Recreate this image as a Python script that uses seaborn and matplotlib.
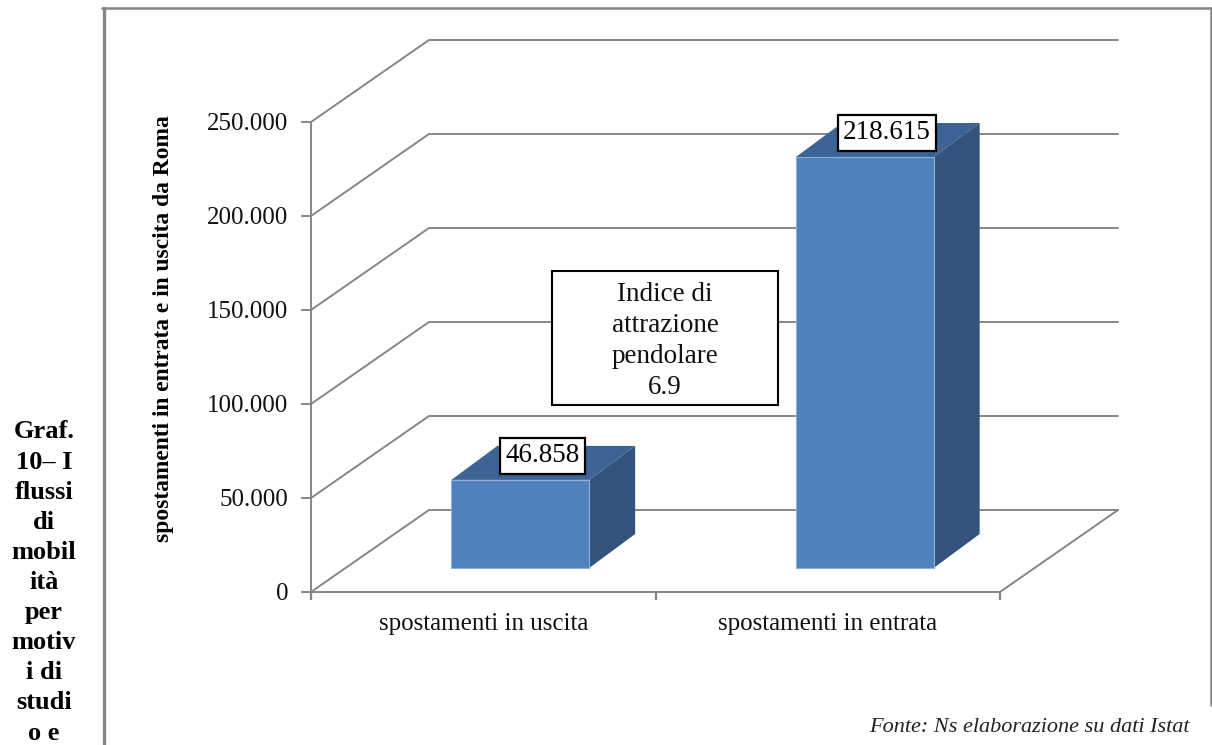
import pandas as pd
import seaborn as sns
from matplotlib import pyplot as plt
from matplotlib.lines import Line2D
from matplotlib.patches import Polygon, Rectangle
from matplotlib.ticker import FuncFormatter

categories = ['spostamenti in uscita', 'spostamenti in entrata']
values = [46858, 218615]
y_ticks = [0, 50000, 100000, 150000, 200000, 250000]
y_label = 'spostamenti in entrata e in uscita da Roma'
box_lines = ['Indice di', 'attrazione', 'pendolare', '6.9']
caption_lines = ['Graf.', '10– I', 'flussi', 'di', 'mobil', 'ità', 'per', 'motiv', 'i di', 'studi', 'o e']
source = 'Fonte: Ns elaborazione su dati Istat'

GREY = '#868686'
FRONT, TOP, SIDE = '#4f81bd', '#3c6494', '#32537c'

sns.set_theme(style='white')
plt.rcParams['font.family'] = ['Liberation Serif', 'DejaVu Serif']

W, H = 1212, 745
fig = plt.figure(figsize=(W / 100, H / 100), dpi=100)
ax = fig.add_axes([311 / W, (H - 592) / H, 689 / W, 470 / H])

# pixel sizes of the fake 3d, turned into data units
px_x = 2 / 689
px_y = 250000 / 470
wall_dx, wall_dy = 118 * px_x, 82 * px_y
bar_dx, bar_dy = 37 * px_x, 24 * px_y
depth_dx, depth_dy = 46 * px_x, 34 * px_y

df = pd.DataFrame({'cat': categories, 'val': values})
sns.barplot(data=df, x='cat', y='val', color=FRONT, saturation=1, width=0.4, ax=ax, zorder=3)
ax.set_xlim(-0.5, 1.5)
ax.set_ylim(0, 250000)

# back wall and its diagonals
for v in y_ticks:
    ax.plot([-0.5, -0.5 + wall_dx, 1.5 + wall_dx], [v, v + wall_dy, v + wall_dy],
            color=GREY, lw=1.4, clip_on=False, zorder=1)
ax.plot([1.5, 1.5 + wall_dx], [0, wall_dy], color=GREY, lw=1.4, clip_on=False, zorder=1)

# shift each bar onto its plane, then add top and side faces
for bar, v in zip(ax.patches, values):
    bar.set_x(bar.get_x() + bar_dx)
    bar.set_y(bar_dy)
    bar.set_edgecolor('#8fb0d6')
    bar.set_linewidth(0.8)
    x0, x1 = bar.get_x(), bar.get_x() + bar.get_width()
    y0, y1 = bar_dy, bar_dy + v
    ax.add_patch(Polygon([(x0, y1), (x1, y1), (x1 + depth_dx, y1 + depth_dy), (x0 + depth_dx, y1 + depth_dy)],
                         fc=TOP, ec='none', clip_on=False, zorder=2))
    ax.add_patch(Polygon([(x1, y0), (x1 + depth_dx, y0 + depth_dy), (x1 + depth_dx, y1 + depth_dy), (x1, y1)],
                         fc=SIDE, ec='none', clip_on=False, zorder=2))
    ax.annotate(f'{v:,}'.replace(',', '.'), xy=((x0 + x1) / 2, y1), xytext=(16, 17.5),
                textcoords='offset points', ha='center', va='center', fontsize=19.5, color='black',
                annotation_clip=False, zorder=5,
                bbox=dict(boxstyle='square,pad=0.2', fc='white', ec='black', lw=1.6))

sns.despine(ax=ax)
for side in ['left', 'bottom']:
    ax.spines[side].set_color(GREY)
    ax.spines[side].set_linewidth(1.4)
ax.set_yticks(y_ticks)
ax.yaxis.set_major_formatter(FuncFormatter(lambda v, _: f'{int(v):,}'.replace(',', '.')))
ax.set_xticks([-0.5, 0.5, 1.5], minor=True)
ax.tick_params(axis='y', left=True, length=7, width=1.4, color=GREY, labelsize=18, pad=9.5, labelcolor='#111111')
ax.tick_params(axis='x', which='minor', bottom=True, length=6, width=1.6, color=GREY)
ax.tick_params(axis='x', which='major', bottom=False, labelsize=18, pad=9, labelcolor='#111111')
ax.set_xlabel('')
ax.set_ylabel(y_label, fontsize=16.9, fontweight='bold', color='black')
ax.yaxis.set_label_coords(-137 / 689, 0.56)

# overlay in pixel units for page elements
page = fig.add_axes([0, 0, 1, 1], zorder=5)
page.set_xlim(0, W)
page.set_ylim(H, 0)
page.axis('off')
page.patch.set_alpha(0)
fig.add_artist(Line2D([103.5 / W, 103.5 / W], [0, 1 - 8 / H], color=GREY, lw=2.4))
fig.add_artist(Line2D([102 / W, 1 - 1 / W], [1 - 8 / H, 1 - 8 / H], color=GREY, lw=1.8))
fig.add_artist(Line2D([1 - 1 / W, 1 - 1 / W], [1 - 8 / H, 1 - 705 / H], color=GREY, lw=1.8))

page.add_patch(Rectangle((552, 271), 226, 134, fc='white', ec='black', lw=1.5))
page.text(665, 341, '\n'.join(box_lines), ha='center', va='center', fontsize=19.5, linespacing=1.32, color='#111111')

for i, line in enumerate(caption_lines):
    page.text(44, 432 + i * 30.1, line, ha='center', va='center', fontsize=19, fontweight='bold', color='black')

page.text(1190, 727, source, ha='right', va='center', fontsize=16, fontstyle='italic', color='#222222')

fig.savefig('out.png')
